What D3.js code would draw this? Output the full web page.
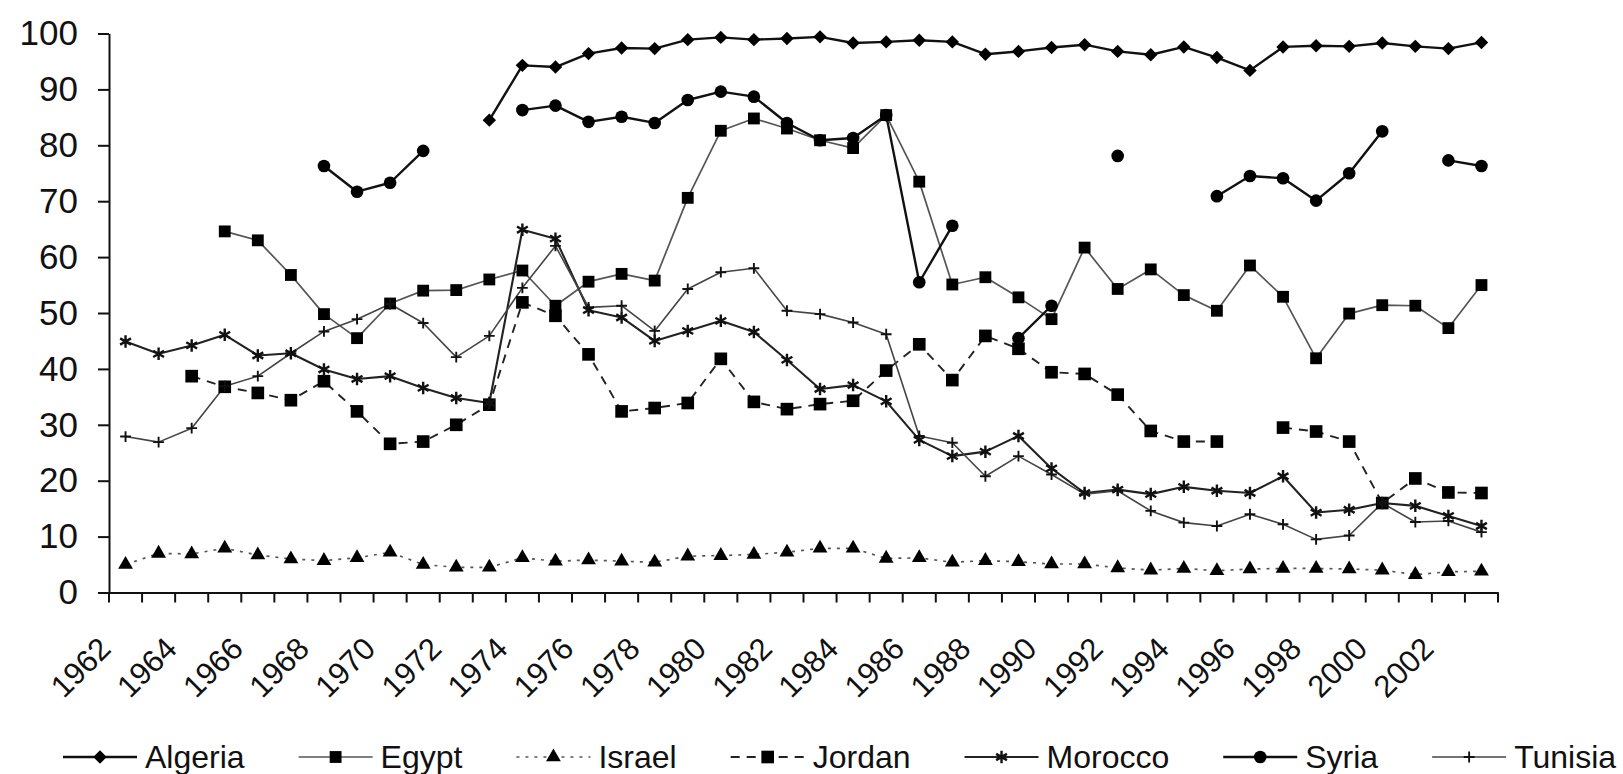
<!DOCTYPE html>
<html><head><meta charset="utf-8">
<script src="https://cdn.jsdelivr.net/npm/d3@7"></script>
<style>
html,body{margin:0;padding:0;background:#fff;}
svg{display:block;font-family:"Liberation Sans",Arial,Helvetica,sans-serif;}
</style></head><body>
<svg id="chart" width="1623" height="774"></svg>
<script>
// ---------- data ----------
const years = [1962,1963,1964,1965,1966,1967,1968,1969,1970,1971,1972,1973,1974,1975,1976,1977,1978,1979,1980,1981,1982,1983,1984,1985,1986,1987,1988,1989,1990,1991,1992,1993,1994,1995,1996,1997,1998,1999,2000,2001,2002,2003];
const yTicks = [0,10,20,30,40,50,60,70,80,90,100];
const xTickLabels = [1962,1964,1966,1968,1970,1972,1974,1976,1978,1980,1982,1984,1986,1988,1990,1992,1994,1996,1998,2000,2002];
const seriesNames = ["Algeria","Egypt","Israel","Jordan","Morocco","Syria","Tunisia"];

const algeria = [null,null,null,null,null,null,null,null,null,null,null,
  84.5,94.3,94.0,96.4,97.4,97.3,98.9,99.3,98.9,99.1,99.4,98.3,98.5,98.8,98.5,96.3,96.8,97.5,98.0,96.8,96.2,97.6,95.7,93.4,97.6,97.8,97.7,98.3,97.7,97.3,98.4];
const egypt = [null,null,null,
  64.6,63.0,56.8,49.8,45.5,51.7,54.0,54.1,56.0,57.6,51.3,55.6,57.0,55.8,70.6,82.6,84.8,83.0,80.9,79.5,85.4,73.5,55.1,56.4,52.8,48.9,61.7,54.3,57.8,53.2,50.4,58.5,52.9,41.9,49.9,51.4,51.3,47.3,55.0];
const israel = [5.0,7.0,6.9,7.9,6.7,6.0,5.7,6.2,7.2,5.0,4.5,4.5,6.2,5.6,5.8,5.6,5.4,6.5,6.6,6.8,7.2,7.9,7.9,6.1,6.2,5.4,5.7,5.5,5.1,5.1,4.4,4.0,4.3,3.9,4.2,4.3,4.3,4.2,4.0,3.2,3.7,3.8];
const jordan = [null,null,
  38.7,36.8,35.7,34.4,37.8,32.4,26.6,27.0,30.0,33.6,51.9,49.5,42.6,32.4,33.0,33.9,41.8,34.1,32.8,33.7,34.3,39.7,44.4,38.0,45.9,43.6,39.4,39.1,35.4,28.9,27.0,27.0,null,29.5,28.8,27.0,16.0,20.4,17.9,17.8];
const morocco = [44.9,42.7,44.2,46.1,42.4,42.8,39.9,38.2,38.7,36.6,34.8,33.9,64.9,63.3,50.5,49.2,45.0,46.8,48.6,46.6,41.6,36.4,37.1,34.2,27.3,24.4,25.2,28.0,22.2,17.8,18.4,17.6,18.9,18.2,17.8,20.8,14.3,14.8,16.0,15.5,13.7,11.9];
const syria = [null,null,null,null,null,null,
  76.3,71.7,73.3,79.0,null,null,86.3,87.1,84.2,85.1,84.0,88.1,89.6,88.7,84.0,80.9,81.3,85.4,55.5,65.6,null,45.5,51.3,null,78.1,null,null,70.9,74.5,74.1,70.1,75.0,82.5,null,77.3,76.3];
const tunisia = [27.9,26.9,29.4,36.9,38.7,42.8,46.7,48.9,51.6,48.2,42.1,45.9,54.5,62.0,51.0,51.3,46.8,54.3,57.3,58.0,50.4,49.8,48.3,46.2,28.0,26.8,20.8,24.4,21.1,17.6,18.2,14.6,12.5,11.9,14.0,12.2,9.5,10.2,16.0,12.6,12.8,10.8];

const seriesValues = [algeria, egypt, israel, jordan, morocco, syria, tunisia];

// ---------- styles ----------
const styles = {
  Algeria: {stroke:"#111", width:2.4, dash:null, sym:"diamond"},
  Egypt:   {stroke:"#555", width:1.7, dash:null, sym:"square"},
  Israel:  {stroke:"#555", width:1.7, dash:"3,6", sym:"triangle"},
  Jordan:  {stroke:"#222", width:1.9, dash:"9,7", sym:"squareBig"},
  Morocco: {stroke:"#222", width:2.1, dash:null, sym:"asterisk"},
  Syria:   {stroke:"#111", width:2.4, dash:null, sym:"circle"},
  Tunisia: {stroke:"#444", width:1.6, dash:null, sym:"plus"}
};

const svg = d3.select("#chart");
svg.append("rect").attr("width",1623).attr("height",774).attr("fill","#fff");

const x = d3.scaleBand().domain(years).range([109, 1498]).padding(0);
const y = d3.scaleLinear().domain([0, 100]).range([592.5, 33.5]);
const cx = d => x(d) + x.bandwidth() / 2;

// ---------- axes ----------
const yAxisG = svg.append("g").attr("transform", "translate(109,0)")
  .call(d3.axisLeft(y).tickValues(yTicks).tickSize(11).tickSizeOuter(0).tickPadding(20).tickFormat(d3.format("d")));
yAxisG.select(".domain").attr("stroke","#111").attr("stroke-width",2);
yAxisG.selectAll(".tick line").attr("stroke","#111").attr("stroke-width",2);
yAxisG.selectAll(".tick text").attr("font-size",35).attr("fill","#111")
  .attr("font-family","'Liberation Sans',Arial,sans-serif");

const xAxisG = svg.append("g").attr("transform", `translate(0,${y(0)})`)
  .call(d3.axisBottom(x).tickValues(xTickLabels).tickSize(0).tickSizeOuter(0));
xAxisG.select(".domain").attr("stroke","#111").attr("stroke-width",2);
xAxisG.selectAll(".tick text")
  .attr("font-size",31).attr("fill","#111")
  .attr("font-family","'Liberation Sans',Arial,sans-serif")
  .attr("text-anchor","end").attr("x",0).attr("y",0).attr("dy",0)
  .attr("transform","translate(-13,58) rotate(-45)");

// boundary tick marks between categories
const bounds = years.map(d => x(d)).concat([x.range()[1]]);
svg.append("g").selectAll("line").data(bounds).join("line")
  .attr("x1", d => d).attr("x2", d => d)
  .attr("y1", y(0)).attr("y2", y(0) + 10)
  .attr("stroke","#111").attr("stroke-width",2);

// ---------- symbols ----------
function symbolPath(sym) {
  switch (sym) {
    case "diamond": return d3.symbol(d3.symbolSquare, 90)();
    case "square": return d3.symbol(d3.symbolSquare, 140)();
    case "squareBig": return d3.symbol(d3.symbolSquare, 160)();
    case "triangle": return d3.symbol(d3.symbolTriangle, 95)();
    case "circle": return d3.symbol(d3.symbolCircle, 125)();
    case "asterisk": return d3.symbol(d3.symbolAsterisk, 110)();
    case "plus": return d3.symbol(d3.symbolPlus, 40)();
  }
}
function drawMarker(g, sym, px, py) {
  const p = g.append("path").attr("d", symbolPath(sym))
    .attr("transform", `translate(${px},${py})` + (sym === "diamond" ? " rotate(45)" : ""));
  if (sym === "asterisk" || sym === "plus") {
    p.attr("fill","none").attr("stroke","#111").attr("stroke-width", sym === "asterisk" ? 2.4 : 1.9);
  } else {
    p.attr("fill","#000").attr("stroke","none");
  }
}

// ---------- lines ----------
const lineGen = d3.line()
  .defined(d => d.v !== null)
  .x(d => cx(d.year))
  .y(d => y(d.v));

const plot = svg.append("g");
seriesNames.forEach((name, si) => {
  const st = styles[name];
  const data = years.map((yr, i) => ({year: yr, v: seriesValues[si][i]}));
  plot.append("path").datum(data)
    .attr("d", lineGen)
    .attr("fill","none")
    .attr("stroke", st.stroke)
    .attr("stroke-width", st.width)
    .attr("stroke-dasharray", st.dash)
    .attr("stroke-linejoin","round");
});
seriesNames.forEach((name, si) => {
  const st = styles[name];
  const g = plot.append("g");
  years.forEach((yr, i) => {
    const v = seriesValues[si][i];
    if (v !== null) drawMarker(g, st.sym, cx(yr), y(v));
  });
});

// ---------- legend ----------
const legend = svg.append("g").attr("transform","translate(0,757)");
let lx = 63;
seriesNames.forEach(name => {
  const st = styles[name];
  const item = legend.append("g");
  item.append("line").attr("x1", lx).attr("x2", lx + 74).attr("y1", 0).attr("y2", 0)
    .attr("stroke", st.stroke).attr("stroke-width", st.width).attr("stroke-dasharray", st.dash);
  drawMarker(item, st.sym, lx + 37, 0);
  const t = item.append("text").attr("x", lx + 82).attr("y", 11)
    .attr("font-size", 32).attr("fill","#111").text(name);
  lx = lx + 82 + t.node().getComputedTextLength() + 54;
});
</script>
</body></html>
